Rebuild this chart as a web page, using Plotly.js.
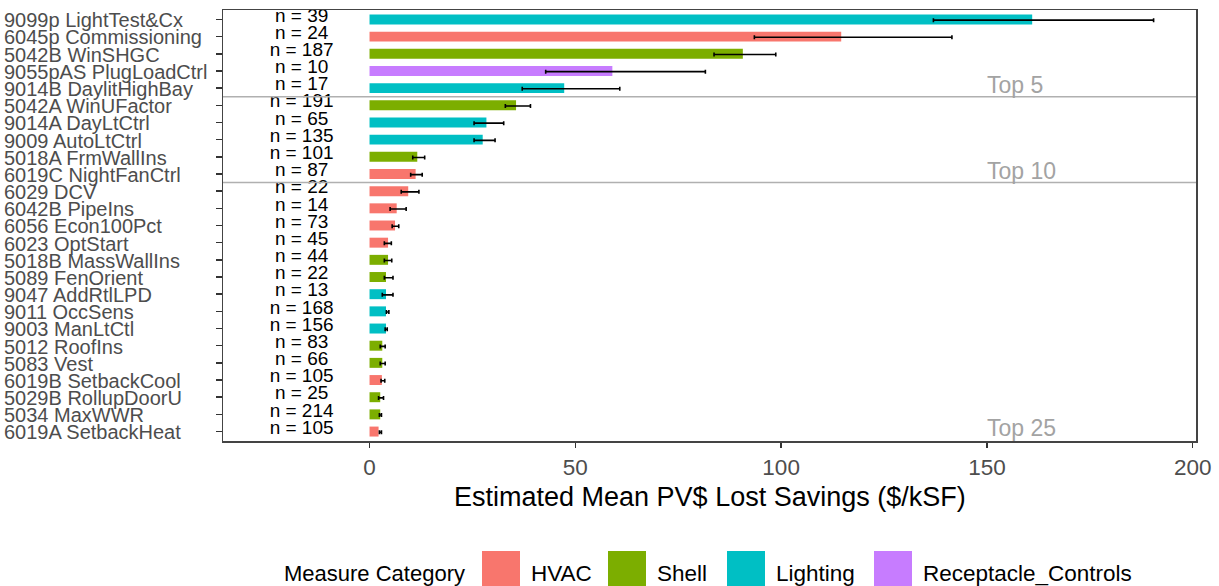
<!DOCTYPE html>
<html>
<head>
<meta charset="utf-8">
<script src="https://cdn.plot.ly/plotly-3.0.1.min.js"></script>
<style>
html,body{margin:0;padding:0;background:#fff;}
#chart{width:1219px;height:586px;}
</style>
</head>
<body>
<div id="chart"></div>
<script>
// ---- data ----
const measures = ["9099p LightTest&Cx","6045p Commissioning","5042B WinSHGC","9055pAS PlugLoadCtrl","9014B DaylitHighBay","5042A WinUFactor","9014A DayLtCtrl","9009 AutoLtCtrl","5018A FrmWallIns","6019C NightFanCtrl","6029 DCV","6042B PipeIns","6056 Econ100Pct","6023 OptStart","5018B MassWallIns","5089 FenOrient","9047 AddRtlLPD","9011 OccSens","9003 ManLtCtl","5012 RoofIns","5083 Vest","6019B SetbackCool","5029B RollupDoorU","5034 MaxWWR","6019A SetbackHeat"];
const measureCategory = ["Lighting","HVAC","Shell","Receptacle_Controls","Lighting","Shell","Lighting","Lighting","Shell","HVAC","HVAC","HVAC","HVAC","HVAC","Shell","Shell","Lighting","Lighting","Lighting","Shell","Shell","HVAC","Shell","Shell","HVAC"];
const nCounts = [39,24,187,10,17,191,65,135,101,87,22,14,73,45,44,22,13,168,156,83,66,105,25,214,105];
const meanSavings = [161,114.6,90.7,59,47.3,35.6,28.4,27.5,11.6,11.2,9.4,6.6,6.2,4.5,4.5,4.0,4.0,4.0,4.0,3.1,3.1,3.0,2.6,2.6,2.2];
const ciLower = [137,93.5,83.7,42.8,37.1,33.0,25.4,25.4,10.5,10.0,7.7,5.0,5.5,3.6,3.6,3.6,3.1,4.1,3.8,2.6,2.6,2.8,2.2,2.4,2.4];
const ciUpper = [190.5,141.5,98.7,81.6,60.8,39.1,32.6,30.5,13.4,12.8,12.0,8.9,7.1,5.3,5.4,5.7,5.7,4.7,4.3,3.8,3.8,3.7,3.4,2.9,2.9];
const categories = ["HVAC","Shell","Lighting","Receptacle_Controls"];
const categoryColors = ["#F8766D","#7CAE00","#00BFC4","#C77CFF"];
const tierLabels = ["Top 5","Top 10","Top 25"];
const tierRows = [5,10,25];
const xTicks = [0,50,100,150,200];

// ---- layout helpers (pixel geometry of plot area) ----
const PL = 223, PR = 1196, PT = 10, PB = 441;
const px = x => (x - PL) / (PR - PL);
const py = y => (PB - y) / (PB - PT);
const FONT = 'Liberation Sans, Arial, sans-serif';

const idx = measures.map((_, i) => i);
const traces = [];
categories.forEach((cat, c) => {
  const ii = idx.filter(i => measureCategory[i] === cat);
  traces.push({
    type: 'bar', orientation: 'h', name: cat, showlegend: false,
    x: ii.map(i => meanSavings[i]), y: ii,
    marker: {color: categoryColors[c]}, hoverinfo: 'x+name'
  });
});
// error bars
traces.push({
  type: 'scatter', mode: 'markers', showlegend: false, hoverinfo: 'skip',
  x: idx.map(i => (ciLower[i] + ciUpper[i]) / 2),
  y: idx.map(i => i + 0.04),
  marker: {color: 'rgba(0,0,0,0)', size: 1},
  error_x: {type: 'data', symmetric: true, array: idx.map(i => (ciUpper[i] - ciLower[i]) / 2),
            color: '#000', thickness: 1.6, width: 2}
});
// n labels
traces.push({
  type: 'scatter', mode: 'text', showlegend: false, hoverinfo: 'skip',
  x: idx.map(() => -16.5), y: idx.map(i => i - 0.15),
  text: nCounts.map(n => 'n = ' + n),
  textfont: {family: FONT, size: 19, color: '#000'},
  textposition: 'middle center', cliponaxis: false
});

const shapes = [];
const annotations = [];
// left-aligned measure labels
measures.forEach((m, i) => annotations.push({
  x: px(2), y: i + 0.05, xref: 'paper', yref: 'y', text: m, showarrow: false,
  xanchor: 'left', yanchor: 'middle', font: {family: FONT, size: 20, color: '#4d4d4d'}
}));
// separator lines
[4.5, 9.5].forEach(yv => shapes.push({type: 'line', xref: 'paper', yref: 'y', x0: 0, x1: 1, y0: yv, y1: yv,
  line: {color: '#b0b0b0', width: 1.6}}));
// tier labels
tierLabels.forEach((t, k) => annotations.push({
  x: 149.5, y: tierRows[k] - 1 - 0.2, xref: 'x', yref: 'y', text: t, showarrow: false,
  font: {family: FONT, size: 23, color: '#a3a3a3'}, xanchor: 'left', yanchor: 'middle'
}));
// x-axis title
annotations.push({x: px(710), y: py(497), xref: 'paper', yref: 'paper', showarrow: false,
  text: 'Estimated Mean PV$ Lost Savings ($/kSF)', xanchor: 'center', yanchor: 'middle',
  font: {family: FONT, size: 27, color: '#000'}});
// legend (manual)
annotations.push({x: px(282), y: py(573), xref: 'paper', yref: 'paper', showarrow: false,
  text: 'Measure Category', xanchor: 'left', yanchor: 'middle',
  font: {family: FONT, size: 22, color: '#000'}});
const swX = [482, 608, 727, 874];
categories.forEach((cat, c) => {
  shapes.push({type: 'rect', xref: 'paper', yref: 'paper', x0: px(swX[c]), x1: px(swX[c] + 38),
    y0: py(551), y1: py(592), fillcolor: categoryColors[c], line: {width: 0}});
  annotations.push({x: px(swX[c] + 47), y: py(573), xref: 'paper', yref: 'paper', showarrow: false,
    text: cat, xanchor: 'left', yanchor: 'middle',
    font: {family: FONT, size: 22.5, color: '#000'}});
});

const layout = {
  width: 1219, height: 586,
  margin: {l: PL, r: 1219 - PR, t: PT, b: 586 - PB, pad: 0},
  paper_bgcolor: '#fff', plot_bgcolor: '#fff',
  bargap: 0.42, barmode: 'overlay', showlegend: false,
  font: {family: FONT},
  xaxis: {
    range: [-35.6, 200.8], tickvals: xTicks, ticktext: xTicks.map(String),
    showgrid: false, zeroline: false, ticks: 'outside', ticklen: 5, tickwidth: 1.5, tickcolor: '#333',
    showline: true, mirror: true, linecolor: '#444', linewidth: 1.5,
    tickfont: {size: 22.5, color: '#4d4d4d'}
  },
  yaxis: {
    range: [24.55, -0.55], tickvals: idx, ticktext: idx.map(() => ''),
    showgrid: false, zeroline: false, ticks: 'outside', ticklen: 6, tickwidth: 1.5, tickcolor: '#333',
    showline: true, mirror: true, linecolor: '#444', linewidth: 1.5,
    showticklabels: true
  },
  shapes: shapes, annotations: annotations
};
Plotly.newPlot('chart', traces, layout, {displayModeBar: false, staticPlot: true});
</script>
</body>
</html>
